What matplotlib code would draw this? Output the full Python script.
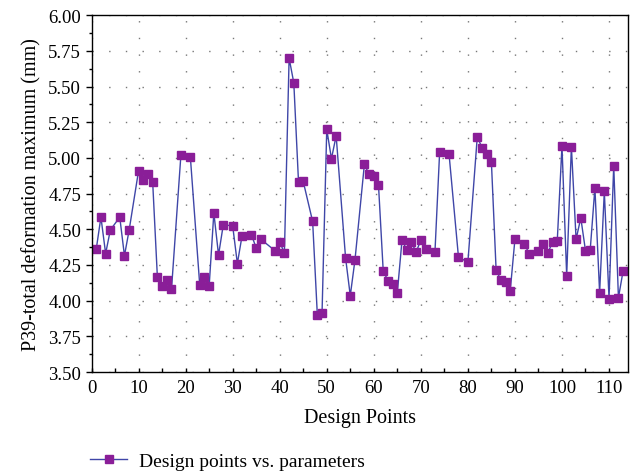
import matplotlib.pyplot as plt
from matplotlib.ticker import MultipleLocator, FormatStrFormatter

design_pts = [1, 2, 3, 4, 6, 7, 8, 10, 11, 12, 13, 14, 15, 16, 17, 19, 21, 23, 24, 25,
              26, 27, 28, 30, 31, 32, 34, 35, 36, 39, 40, 41, 42, 43, 44, 45, 47, 48, 49, 50,
              51, 52, 54, 55, 56, 58, 59, 60, 61, 62, 63, 64, 65, 66, 67, 68, 69, 70, 71, 73,
              74, 76, 78, 80, 82, 83, 84, 85, 86, 87, 88, 89, 90, 92, 93, 95, 96, 97, 98, 99,
              100, 101, 102, 103, 104, 105, 106, 107, 108, 109, 110, 111, 112, 113]
deformation = [4.36, 4.585, 4.33, 4.495, 4.585, 4.315, 4.495, 4.91, 4.845, 4.89, 4.83, 4.165, 4.10, 4.145, 4.08, 5.02, 5.01, 4.11, 4.165, 4.10,
               4.615, 4.32, 4.53, 4.525, 4.26, 4.455, 4.46, 4.37, 4.43, 4.35, 4.41, 4.335, 5.70, 5.525, 4.83, 4.835, 4.555, 3.90, 3.915, 5.20,
               4.995, 5.155, 4.30, 4.035, 4.285, 4.955, 4.885, 4.87, 4.81, 4.21, 4.14, 4.12, 4.055, 4.425, 4.355, 4.41, 4.34, 4.425, 4.36, 4.34,
               5.045, 5.025, 4.305, 4.27, 5.15, 5.07, 5.03, 4.97, 4.215, 4.145, 4.13, 4.07, 4.43, 4.40, 4.33, 4.35, 4.40, 4.335, 4.41, 4.42,
               5.085, 4.175, 5.08, 4.43, 4.58, 4.35, 4.355, 4.79, 4.055, 4.765, 4.015, 4.945, 4.02, 4.21]

plt.rcParams['font.family'] = ['Liberation Serif', 'DejaVu Serif']

fig = plt.figure(figsize=(6.4, 4.77), dpi=100)
ax = fig.add_axes([0.143, 0.218, 0.838, 0.748])

ax.plot(design_pts, deformation, color='#3f46a8', linewidth=1.0, marker='s',
        markersize=5.5, markerfacecolor='#8a1e98', markeredgecolor='#8a1e98',
        label='Design points vs. parameters')

ax.set_xlim(0, 114)
ax.set_ylim(3.5, 6.0)
ax.xaxis.set_major_locator(MultipleLocator(10))
ax.xaxis.set_minor_locator(MultipleLocator(5))
ax.yaxis.set_major_locator(MultipleLocator(0.25))
ax.yaxis.set_minor_locator(MultipleLocator(0.125))
ax.yaxis.set_major_formatter(FormatStrFormatter('%.2f'))
ax.tick_params(axis='y', which='major', direction='out', length=4, width=1, labelsize=13.5)
ax.tick_params(axis='y', which='minor', direction='out', length=2.5, width=1)
ax.tick_params(axis='x', which='major', direction='in', length=3, width=1, labelsize=13.5, pad=5)
ax.tick_params(axis='x', which='minor', direction='in', length=3, width=1)
ax.grid(which='major', color='#777777', linestyle=(0, (1, 11)), linewidth=1)
for s in ax.spines.values():
    s.set_linewidth(1.0)

ax.set_xlabel('Design Points', fontsize=14.5, labelpad=9)
ax.set_ylabel('P39-total deformation maximum (mm)', fontsize=14.5, labelpad=5)

ax.legend(loc='upper left', bbox_to_anchor=(-0.035, -0.175), frameon=False,
          fontsize=14, handlelength=1.9, handletextpad=0.6)

plt.savefig('out.png', dpi=100)
